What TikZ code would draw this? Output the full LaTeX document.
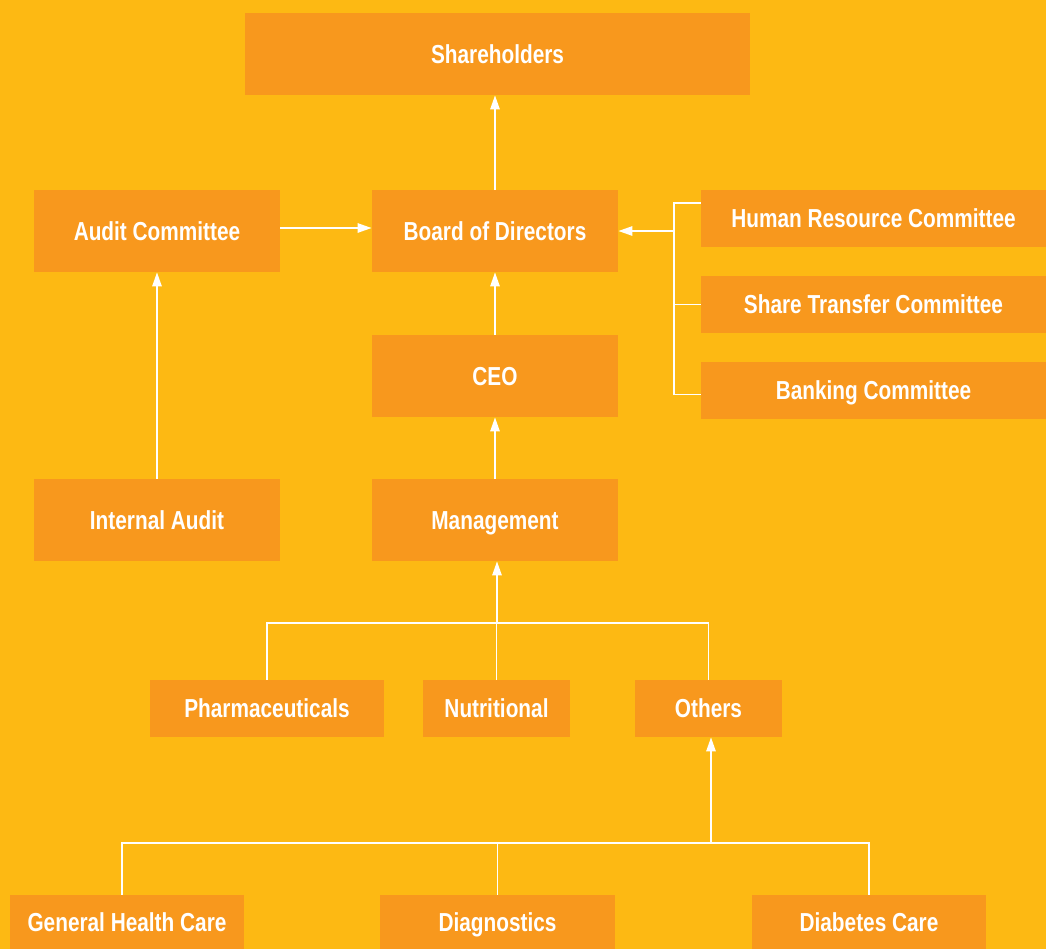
\documentclass[tikz,border=0pt]{standalone}
\usepackage{fontspec}
\setmainfont[FakeStretch=0.8]{Liberation Sans}
\usepackage{tikz}
\usetikzlibrary{arrows.meta, positioning, calc}

\definecolor{bgyellow}{RGB}{253,185,19}
\definecolor{boxorange}{RGB}{248,152,29}

\tikzset{
    orgbox/.style={rectangle, fill=boxorange, text=white, inner sep=0pt,
        text height=13.3pt, text depth=0pt,
        font=\fontsize{18.5}{20}\selectfont\bfseries},
    bigbox/.style={orgbox, minimum width=6.15cm, minimum height=2.05cm},
    flatbox/.style={orgbox, minimum height=1.425cm},
    wline/.style={draw=white, line width=1.4pt},
    warrow/.style={wline, -{Triangle[length=0.35cm, width=0.23cm]}}
}

\begin{document}
\begin{tikzpicture}[x=0.025cm, y=-0.025cm]
    \fill[bgyellow] (0,0) rectangle (1046,949);
    \useasboundingbox (0,0) rectangle (1046,949);

    \node[bigbox, minimum width=12.625cm] (share) at (497.5,54) {Shareholders};
    \node[bigbox] (audit) at (157,231) {Audit Committee};
    \node[bigbox] (board) at (495,231) {Board of Directors};
    \node[bigbox] (ceo) at (495,376) {CEO};
    \node[bigbox] (iaudit) at (157,520) {Internal Audit};
    \node[bigbox] (mgmt) at (495,520) {Management};

    \node[flatbox, minimum width=8.625cm] (hrc) at (873.5,218.5) {Human Resource Committee};
    \node[flatbox, minimum width=8.625cm] (stc) at (873.5,304.5) {Share Transfer Committee};
    \node[flatbox, minimum width=8.625cm] (bank) at (873.5,390.5) {Banking Committee};

    \node[flatbox, minimum width=5.85cm] (pharma) at (267,708.5) {Pharmaceuticals};
    \node[flatbox, minimum width=3.675cm] (nutri) at (496.5,708.5) {Nutritional};
    \node[flatbox, minimum width=3.675cm] (others) at (708.5,708.5) {Others};

    \node[orgbox, minimum width=5.85cm, minimum height=1.35cm] (ghc) at (127,922) {General Health Care};
    \node[orgbox, minimum width=5.85cm, minimum height=1.35cm] (diag) at (497.5,922) {Diagnostics};
    \node[orgbox, minimum width=5.85cm, minimum height=1.35cm] (diab) at (869,922) {Diabetes Care};

    % main line
    \draw[warrow] (board.north) -- (board.north |- share.south);
    \draw[warrow] (ceo.north) -- (ceo.north |- board.south);
    \draw[warrow] (mgmt.north) -- (mgmt.north |- ceo.south);
    \draw[warrow] ([yshift=0.075cm]audit.east) -- ([yshift=0.075cm]board.west);
    \draw[warrow] (iaudit.north) -- (iaudit.north |- audit.south);

    % committees
    \coordinate (bx) at (674,231);
    \draw[wline] ([yshift=0.38cm]hrc.west) -| ([yshift=-0.1cm]bank.west -| bx) -- ([yshift=-0.1cm]bank.west);
    \draw[wline] (stc.west) -- (stc.west -| bx);
    \draw[warrow] (bx) -- (board.east);

    % divisions
    \coordinate (mj) at (497,623);
    \draw[wline] (pharma.north) |- (others.north |- mj) -- (others.north);
    \draw[wline] (nutri.north) -- (nutri.north |- mj);
    \draw[warrow] (mj) -- (mj |- mgmt.south);

    \coordinate (oj) at (711,843);
    \draw[wline] ([xshift=-0.12cm]ghc.north) |- (diab.north |- oj) -- (diab.north);
    \draw[wline] (diag.north) -- (diag.north |- oj);
    \draw[warrow] (oj) -- (oj |- others.south);
\end{tikzpicture}
\end{document}
